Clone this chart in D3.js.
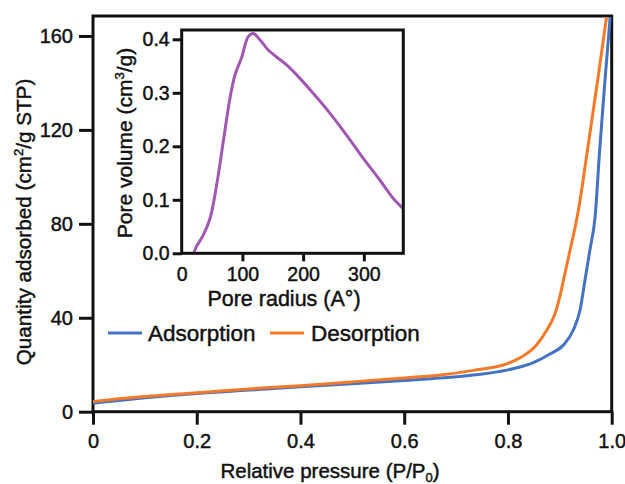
<!DOCTYPE html>
<html>
<head>
<meta charset="utf-8">
<script src="https://cdn.jsdelivr.net/npm/d3@7"></script>
<style>
  html, body { margin: 0; padding: 0; background: #fff; }
  svg { display: block; }
  text { font-family: "Liberation Sans", Arial, Helvetica, sans-serif; fill: #111; stroke: #111; stroke-width: 0.45px; }
</style>
</head>
<body>
<svg id="chart" width="625" height="484"></svg>
<script>
// ---------- Data ----------
const adsorptionP = [0.0, 0.02, 0.05, 0.1, 0.15, 0.2, 0.3, 0.4, 0.5, 0.6, 0.67, 0.733, 0.8, 0.85, 0.88, 0.907, 0.926, 0.939, 0.9485, 0.958, 0.968, 0.977, 0.987, 0.997];
const adsorptionQ = [3.6, 4.1, 4.8, 5.9, 6.9, 7.8, 9.2, 10.6, 11.9, 13.3, 14.3, 15.6, 17.8, 21.0, 24.5, 28.4, 34.8, 43.3, 56.0, 68.9, 83.0, 112.0, 141.0, 168.0];

const desorptionP = [0.0, 0.02, 0.05, 0.1, 0.15, 0.2, 0.3, 0.4, 0.5, 0.6, 0.67, 0.733, 0.8, 0.83, 0.855, 0.875, 0.891, 0.9, 0.91, 0.917, 0.936, 0.955, 0.974, 0.99];
const desorptionQ = [4.3, 4.8, 5.5, 6.5, 7.3, 8.1, 9.7, 11.1, 12.7, 14.4, 15.6, 17.6, 20.6, 23.8, 28.4, 34.8, 41.9, 49.0, 59.0, 66.0, 86.0, 114.0, 142.7, 168.0];

const poreRadius = [20, 24, 35.5, 46.6, 57.6, 68.5, 79.5, 87.7, 98.7, 109.6, 117.8, 128.8, 142.5, 156.3, 172.8, 194.7, 216.6, 244.0, 271.5, 298.8, 326.3, 348.2, 364.6];
const poreVolume = [0.0, 0.012, 0.034, 0.065, 0.128, 0.209, 0.290, 0.333, 0.366, 0.405, 0.411, 0.399, 0.380, 0.367, 0.352, 0.327, 0.299, 0.262, 0.221, 0.178, 0.137, 0.103, 0.084];

const mainXTicks = [0, 0.2, 0.4, 0.6, 0.8, 1.0];
const mainYTicks = [0, 40, 80, 120, 160];
const insetXTicks = [0, 100, 200, 300];
const insetYTicks = [0, 0.1, 0.2, 0.3, 0.4];
const seriesNames = ["Adsorption", "Desorption"];
const seriesColors = ["#4472c4", "#f47a2a"];
const insetColor = "#a257b2";

// ---------- Setup ----------
const svg = d3.select("#chart");
const FS = 20;

const plot = { left: 93, right: 611.7, top: 16, bottom: 411.7 };
const x = d3.scaleLinear().domain([0, 1]).range([plot.left, plot.right]);
const y = d3.scaleLinear().domain([0, 168.5]).range([plot.bottom, plot.top]);

const inset = { left: 181.7, right: 403.3, top: 30, bottom: 253.3 };
const ix = d3.scaleLinear().domain([0, 365]).range([inset.left, inset.right]);
const iy = d3.scaleLinear().domain([0, 0.4174]).range([inset.bottom, inset.top]);

function styleAxis(g, fs) {
  g.select(".domain").remove();
  g.selectAll(".tick line").attr("stroke", "#111").attr("stroke-width", 3);
  g.selectAll(".tick text")
    .style("font-family", '"Liberation Sans", Arial, sans-serif')
    .style("font-size", fs + "px")
    .attr("fill", "#111");
}

// ---------- Main axes ----------
svg.append("g")
  .attr("transform", `translate(0,${plot.bottom})`)
  .call(d3.axisBottom(x).tickValues(mainXTicks).tickSize(13).tickPadding(9)
    .tickFormat(d => d === 0 ? "0" : d.toFixed(1)))
  .call(g => styleAxis(g, FS));

svg.append("g")
  .attr("transform", `translate(${plot.left},0)`)
  .call(d3.axisLeft(y).tickValues(mainYTicks).tickSize(14).tickPadding(6))
  .call(g => styleAxis(g, FS));

// frame
svg.append("rect")
  .attr("x", plot.left).attr("y", plot.top)
  .attr("width", plot.right - plot.left).attr("height", plot.bottom - plot.top)
  .attr("fill", "none").attr("stroke", "#111").attr("stroke-width", 3);

// ---------- Main curves ----------
const mainLine = d3.line().x(d => x(d[0])).y(d => y(d[1])).curve(d3.curveMonotoneX);
const adsData = adsorptionP.map((p, i) => [p, adsorptionQ[i]]);
const desData = desorptionP.map((p, i) => [p, desorptionQ[i]]);

svg.append("path").datum(adsData)
  .attr("d", mainLine).attr("fill", "none")
  .attr("stroke", seriesColors[0]).attr("stroke-width", 3);
svg.append("path").datum(desData)
  .attr("d", mainLine).attr("fill", "none")
  .attr("stroke", seriesColors[1]).attr("stroke-width", 3);

// ---------- Axis titles ----------
const xt = svg.append("text")
  .attr("x", 330).attr("y", 478)
  .attr("text-anchor", "middle")
  .style("font-size", "20.5px");
xt.append("tspan").text("Relative pressure (P/P");
xt.append("tspan").attr("dy", 4).style("font-size", "13px").text("0");
xt.append("tspan").attr("dy", -4).text(")");

const yt = svg.append("text")
  .attr("transform", "translate(31,222) rotate(-90)")
  .attr("text-anchor", "middle")
  .style("font-size", "20.7px");
yt.append("tspan").text("Quantity adsorbed (cm");
yt.append("tspan").attr("dy", -8).style("font-size", "13px").text("2");
yt.append("tspan").attr("dy", 8).text("/g STP)");

// ---------- Legend ----------
const legendItems = [
  { name: seriesNames[0], color: seriesColors[0], x1: 108, x2: 142, tx: 148 },
  { name: seriesNames[1], color: seriesColors[1], x1: 270, x2: 304, tx: 311 }
];
const lg = svg.append("g");
legendItems.forEach(it => {
  lg.append("line").attr("x1", it.x1).attr("x2", it.x2).attr("y1", 333).attr("y2", 333)
    .attr("stroke", it.color).attr("stroke-width", 3);
  lg.append("text").attr("x", it.tx).attr("y", 341).style("font-size", "22.5px").text(it.name);
});

// ---------- Inset ----------
svg.append("rect")
  .attr("x", inset.left).attr("y", inset.top)
  .attr("width", inset.right - inset.left).attr("height", inset.bottom - inset.top)
  .attr("fill", "#fff");

svg.append("g")
  .attr("transform", `translate(0,${inset.bottom})`)
  .call(d3.axisBottom(ix).tickValues(insetXTicks).tickSize(8).tickPadding(6))
  .call(g => styleAxis(g, 19.5))
  .call(g => g.selectAll(".tick").filter(d => d === 0).select("line").remove());

svg.append("g")
  .attr("transform", `translate(${inset.left},0)`)
  .call(d3.axisLeft(iy).tickValues(insetYTicks).tickSize(9).tickPadding(3)
    .tickFormat(d => d.toFixed(1)))
  .call(g => styleAxis(g, 19.5));

const insetLine = d3.line().x(d => ix(d[0])).y(d => iy(d[1])).curve(d3.curveCatmullRom.alpha(0.5));
const poreData = poreRadius.map((r, i) => [r, poreVolume[i]]);
svg.append("path").datum(poreData)
  .attr("d", insetLine).attr("fill", "none")
  .attr("stroke", insetColor).attr("stroke-width", 3)
  .attr("stroke-linejoin", "round");

svg.append("rect")
  .attr("x", inset.left).attr("y", inset.top)
  .attr("width", inset.right - inset.left).attr("height", inset.bottom - inset.top)
  .attr("fill", "none").attr("stroke", "#111").attr("stroke-width", 3);

svg.append("text")
  .attr("x", 284).attr("y", 306)
  .attr("text-anchor", "middle")
  .style("font-size", "21.5px")
  .text("Pore radius (A°)");

const iyt = svg.append("text")
  .attr("transform", "translate(132,143) rotate(-90)")
  .attr("text-anchor", "middle")
  .style("font-size", "21px");
iyt.append("tspan").text("Pore volume (cm");
iyt.append("tspan").attr("dy", -8).style("font-size", "13px").text("3");
iyt.append("tspan").attr("dy", 8).text("/g)");
</script>
</body>
</html>
